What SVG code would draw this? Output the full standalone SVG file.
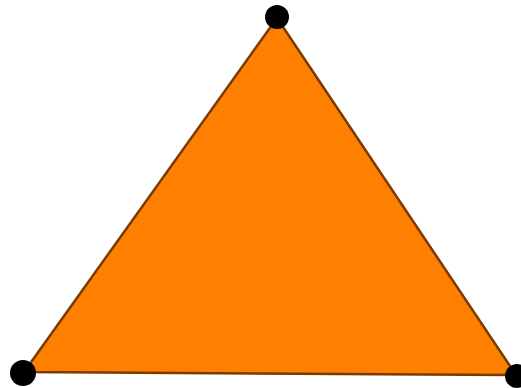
<svg xmlns="http://www.w3.org/2000/svg" width="521" height="388" viewBox="0 0 521 388">
<style>
.v{fill:#000000}
</style>
<rect width="521" height="388" fill="#ffffff"/>
<g id="triangle">
<polygon points="277,18 24,372 516,375" fill="#ff8000" stroke="#7a3a00" stroke-width="2.5" stroke-linejoin="round"/>
</g>
<g id="connectors"></g>
<g id="vertex-top"><circle class="v" cx="277" cy="17" r="12"/></g>
<g id="vertex-left"><circle class="v" cx="23" cy="373" r="13"/></g>
<g id="vertex-right"><circle class="v" cx="517" cy="376" r="12"/></g>
</svg>
